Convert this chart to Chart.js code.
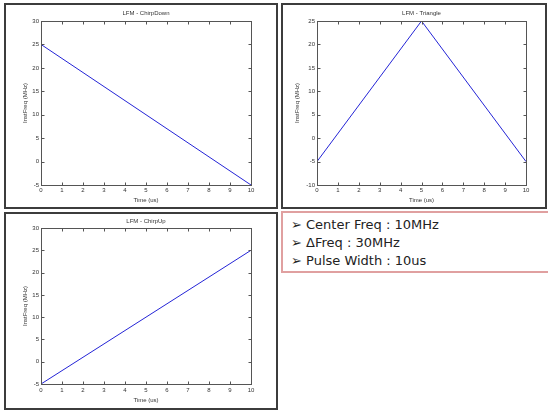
<!DOCTYPE html>
<html><head><meta charset="utf-8">
<script src="https://cdn.jsdelivr.net/npm/chart.js@4/dist/chart.umd.min.js"></script>
<style>
html,body{margin:0;padding:0;background:#fff;width:548px;height:412px;overflow:hidden;position:relative}
.panel{position:absolute;border:2px solid #3c3c3c;box-sizing:border-box;background:#fff}
canvas{position:absolute;left:0;top:0}
#info{position:absolute;left:281px;top:211px;width:290px;height:62px;border:2px solid #e0a0a0;box-sizing:border-box;font-family:"DejaVu Sans",sans-serif;font-size:13px;line-height:18px;color:#222;padding:3px 0 0 8px;white-space:nowrap}
</style></head><body>
<div class="panel" style="left:4px;top:3px;width:274px;height:206px"><canvas id="cA" width="270" height="202"></canvas></div>
<div class="panel" style="left:281px;top:3px;width:266px;height:206px"><canvas id="cB" width="262" height="202"></canvas></div>
<div class="panel" style="left:4px;top:212px;width:274px;height:198px"><canvas id="cC" width="270" height="194"></canvas></div>
<div id="info"></div>
<script>
// ---- data ----
const timeDown = [0, 10];
const freqDown = [25, -5];
const timeTri = [0, 5, 10];
const freqTri = [-5, 25, -5];
const timeUp = [0, 10];
const freqUp = [-5, 25];
const xTickVals = [0, 1, 2, 3, 4, 5, 6, 7, 8, 9, 10];
const yTicksA = [-5, 0, 5, 10, 15, 20, 25, 30];
const yTicksB = [-10, -5, 0, 5, 10, 15, 20, 25];
const titles = ['LFM - ChirpDown', 'LFM - Triangle', 'LFM - ChirpUp'];
const xLabel = 'Time (us)';
const yLabel = 'InstFreq (MHz)';
const infoLines = ['Center Freq : 10MHz', '\u0394Freq : 30MHz', 'Pulse Width : 10us'];

document.getElementById('info').innerHTML = infoLines.map(t => '<div>\u27A2 ' + t + '</div>').join('');

const FONT = 'Liberation Sans, Arial, sans-serif';
const TXT = '#333';
const AX = '#555';

const boxTicks = {
  id: 'boxTicks',
  afterDraw(chart) {
    const {ctx, chartArea: a, scales: {x, y}} = chart;
    const L = Math.round(a.left) + 0.5, R = Math.round(a.right) + 0.5;
    const T = Math.round(a.top) + 0.5, B = Math.round(a.bottom) + 0.5;
    ctx.save();
    ctx.strokeStyle = AX; ctx.lineWidth = 1;
    ctx.strokeRect(L, T, R - L, B - T);
    ctx.beginPath();
    x.ticks.forEach(t => {
      const px = Math.round(x.getPixelForValue(t.value)) + 0.5;
      ctx.moveTo(px, B); ctx.lineTo(px, B - 3);
      ctx.moveTo(px, T); ctx.lineTo(px, T + 3);
    });
    y.ticks.forEach(t => {
      const py = Math.round(y.getPixelForValue(t.value)) + 0.5;
      ctx.moveTo(L, py); ctx.lineTo(L + 3, py);
      ctx.moveTo(R, py); ctx.lineTo(R - 3, py);
    });
    ctx.stroke();
    ctx.restore();
  }
};

function makeChart(id, title, xs, ys, yTicks, g) {
  const pts = xs.map((v, i) => ({x: v, y: ys[i]}));
  return new Chart(document.getElementById(id), {
    type: 'scatter',
    data: {datasets: [{data: pts, showLine: true, borderColor: '#2424d6', borderWidth: 1, pointRadius: 0, fill: false}]},
    options: {
      responsive: false, animation: false, events: [],
      layout: {padding: {left: 0, right: g.padRight, top: 0, bottom: 0}},
      plugins: {
        legend: {display: false}, tooltip: {enabled: false},
        title: {display: true, text: title, fullSize: false, color: TXT,
          font: {family: FONT, size: 6, weight: 'normal'}, padding: g.titlePad}
      },
      scales: {
        x: {
          type: 'linear', min: 0, max: 10,
          afterBuildTicks: s => { s.ticks = xTickVals.map(v => ({value: v})); },
          afterFit: s => { s.height = g.xHeight; },
          grid: {display: false, drawTicks: false}, border: {display: false},
          ticks: {color: TXT, font: {family: FONT, size: 6}, padding: g.xTickPad, maxRotation: 0, autoSkip: false},
          title: {display: true, text: xLabel, color: TXT, font: {family: FONT, size: 6}, padding: {top: 0, bottom: g.xTitlePad}}
        },
        y: {
          type: 'linear', min: yTicks[0], max: yTicks[yTicks.length - 1],
          afterBuildTicks: s => { s.ticks = yTicks.map(v => ({value: v})); },
          afterFit: s => { s.width = g.yWidth; },
          grid: {display: false, drawTicks: false}, border: {display: false},
          ticks: {color: TXT, font: {family: FONT, size: 6}, padding: 2, autoSkip: false},
          title: {display: true, text: yLabel, color: TXT, font: {family: FONT, size: 6}, padding: {top: g.yTitlePad, bottom: 0}}
        }
      }
    },
    plugins: [boxTicks]
  });
}

makeChart('cA', titles[0], timeDown, freqDown, yTicksA,
  {padRight: 25, yWidth: 35, xHeight: 22, xTickPad: 2, titlePad: {top: 4.4, bottom: 4.4}, yTitlePad: 15.4, xTitlePad: 3.4});
makeChart('cB', titles[1], timeTri, freqTri, yTicksB,
  {padRight: 19, yWidth: 34, xHeight: 22, xTickPad: 2, titlePad: {top: 4.4, bottom: 4.4}, yTitlePad: 10.4, xTitlePad: 3.4});
makeChart('cC', titles[2], timeUp, freqUp, yTicksA,
  {padRight: 25, yWidth: 35, xHeight: 24, xTickPad: 3, titlePad: {top: 4.1, bottom: 2.7}, yTitlePad: 15.4, xTitlePad: 4.4});
</script>
</body></html>
